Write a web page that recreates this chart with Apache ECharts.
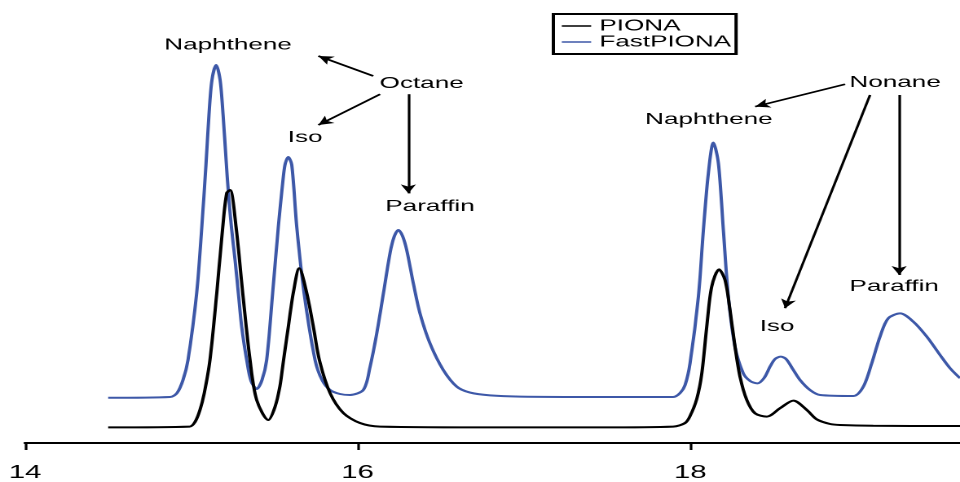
<!DOCTYPE html>
<html><head><meta charset="utf-8">
<script src="https://cdn.jsdelivr.net/npm/echarts@6/dist/echarts.min.js"></script>
<style>
html,body{margin:0;padding:0;background:#fff;overflow:hidden;width:960px;height:482px}
#chart{width:589px;height:482px;transform:scaleX(1.62988);transform-origin:0 0}
</style></head><body><div id="chart"></div>
<script>
// x = retention time (min), y = detector signal (arbitrary units)
const xTickValues = [14, 16, 18];
const seriesNames = ['PIONA', 'FastPIONA'];

const pionaData = [
  [14.50, 3.9], [14.99, 4.1], [15.022, 5.25], [15.052, 8.25], [15.078, 12.5],
  [15.112, 20.75], [15.153, 37.5], [15.189, 54], [15.213, 62.5], [15.233, 63.25],
  [15.269, 54], [15.309, 37.5], [15.353, 20.75], [15.393, 10.75], [15.463, 5.75],
  [15.503, 9], [15.533, 14.25], [15.553, 20.25], [15.583, 29],
  [15.613, 37.5], [15.649, 43.7], [15.694, 37.5], [15.734, 29], [15.770, 20.75],
  [15.834, 12.5], [15.914, 7.5], [16.014, 5], [16.135, 4.1], [16.856, 3.9],
  [17.458, 3.9], [17.897, 4.1], [17.969, 5], [17.999, 6.75], [18.039, 11],
  [18.069, 17.25], [18.099, 29], [18.129, 39.1], [18.173, 43.4], [18.209, 40.75],
  [18.239, 33.25], [18.269, 24.1], [18.299, 16.6], [18.340, 10.75], [18.390, 7.4],
  [18.460, 6.6], [18.540, 8.7], [18.620, 10.6], [18.701, 8.25], [18.761, 5.9],
  [18.841, 4.75], [18.901, 4.5], [19.100, 4.3], [19.622, 4.25]
];

const fastPionaData = [
  [14.50, 11.3], [14.872, 11.5], [14.914, 12.5], [14.95, 15.75], [14.98, 20.75],
  [15.032, 37.4], [15.063, 54], [15.088, 69.5], [15.106, 82], [15.124, 90.75],
  [15.149, 94.5], [15.173, 90.75], [15.191, 82], [15.209, 70.75], [15.223, 62.5],
  [15.241, 54], [15.263, 45.75], [15.283, 37.4], [15.303, 29], [15.333, 20.75],
  [15.359, 15.5], [15.393, 13.5], [15.425, 15.75], [15.453, 20.75], [15.489, 37.5],
  [15.523, 54], [15.545, 63.25], [15.563, 69.5], [15.583, 71.5], [15.604, 69.5],
  [15.634, 54], [15.678, 37.5], [15.744, 20.75], [15.786, 15.75], [15.834, 13.25],
  [15.894, 12.25], [15.954, 12], [16.034, 13.25], [16.075, 19.1], [16.115, 27.4],
  [16.155, 37.4], [16.195, 47.5], [16.219, 51.5], [16.245, 53.25], [16.270, 51.75],
  [16.295, 48.25], [16.335, 39.9], [16.375, 32.4], [16.435, 24.9], [16.515, 18.25],
  [16.596, 14.1], [16.676, 12.6], [16.796, 11.9], [16.977, 11.6], [17.458, 11.5],
  [17.897, 11.5], [17.939, 12.5], [17.969, 14.5], [17.999, 20], [18.049, 36.6],
  [18.079, 53.25], [18.109, 67.5], [18.139, 75.1], [18.169, 70], [18.199, 53.25],
  [18.229, 36.6], [18.269, 24.1], [18.319, 17.4], [18.360, 15.5], [18.404, 14.9],
  [18.444, 16.25], [18.480, 19.1], [18.510, 21], [18.544, 21.6], [18.576, 21],
  [18.620, 18.25], [18.660, 15.75], [18.720, 13.25], [18.781, 12], [18.981, 11.75],
  [19.041, 14.1], [19.091, 19.9], [19.141, 26.6], [19.191, 31.2], [19.262, 32.4],
  [19.342, 30.3], [19.422, 26.6], [19.502, 22], [19.562, 18.7], [19.622, 16.2]
];

// annotation texts and their anchor points (data coordinates)
const annotationNames = ['Naphthene', 'Octane', 'Iso', 'Paraffin', 'Nonane', 'Naphthene', 'Iso', 'Paraffin'];
const annotationCoords = [
  [15.221, 99.5], [16.385, 89.9], [15.684, 76.3], [16.435, 59.1],
  [19.232, 90.1], [18.112, 80.9], [18.522, 29.1], [19.226, 39.1]
];
// arrows: [from, to] in data coordinates
const arrowFrom = [[16.094, 91.75], [16.135, 87.2], [16.305, 87.2], [18.931, 89.7], [19.081, 87], [19.256, 87]];
const arrowTo   = [[15.764, 96.75], [15.764, 79.5], [16.305, 62.4], [18.390, 84.1], [18.570, 33.7], [19.256, 42]];

const FONT = '"Liberation Sans", Arial, sans-serif';
const chart = echarts.init(document.getElementById('chart'), null, {renderer: 'canvas', devicePixelRatio: 2});

chart.setOption({
  animation: false,
  backgroundColor: '#fff',
  textStyle: {fontFamily: FONT, color: '#000'},
  grid: {left: 15.34, right: 0, top: 43, bottom: 39, containLabel: false},
  legend: {
    data: seriesNames,
    orient: 'vertical',
    left: 339.5, top: 14,
    padding: [4, 3, 4, 4.5],
    itemGap: 0,
    itemWidth: 18, itemHeight: 14,
    borderColor: '#000', borderWidth: 2, borderRadius: 0,
    itemStyle: {opacity: 0},
    lineStyle: {width: 1.4},
    textStyle: {fontFamily: FONT, fontSize: 16, color: '#000'}
  },
  xAxis: {
    type: 'value', min: 14, max: 19.622, interval: 2,
    splitLine: {show: false},
    axisLine: {show: true, onZero: false, lineStyle: {color: '#000', width: 2}},
    axisTick: {show: true, length: 7, inside: false, customValues: xTickValues, lineStyle: {color: '#000', width: 1.6}},
    axisLabel: {
      show: true, margin: 21, fontSize: 18, color: '#000', fontFamily: FONT,
      customValues: xTickValues,
      formatter: v => (xTickValues.indexOf(v) >= 0 ? String(v) : '')
    }
  },
  yAxis: {type: 'value', min: 0, max: 100, show: false, splitLine: {show: false}},
  series: [
    {
      name: 'PIONA', type: 'line', data: pionaData, showSymbol: false, symbol: 'none',
      smooth: 0.3, lineStyle: {color: '#000', width: 2}, itemStyle: {color: '#000'}, z: 3,
      markPoint: {
        silent: true, symbol: 'circle', symbolSize: 1, itemStyle: {color: 'rgba(0,0,0,0)'},
        label: {show: true, position: 'inside', formatter: '{b}', fontSize: 16, color: '#000', fontFamily: FONT},
        data: annotationNames.map((n, i) => ({name: n, coord: annotationCoords[i]}))
      },
      markLine: {
        silent: true, symbol: ['none', 'arrow'], symbolSize: [7, 9], precision: 3,
        label: {show: false},
        lineStyle: {color: '#000', width: 1.6, type: 'solid'},
        emphasis: {disabled: true},
        data: arrowFrom.map((f, i) => [{coord: f}, {coord: arrowTo[i]}])
      }
    },
    {
      name: 'FastPIONA', type: 'line', data: fastPionaData, showSymbol: false, symbol: 'none',
      smooth: 0.3, lineStyle: {color: '#3d58a8', width: 2}, itemStyle: {color: '#3d58a8'}, z: 2
    }
  ]
});
</script></body></html>
